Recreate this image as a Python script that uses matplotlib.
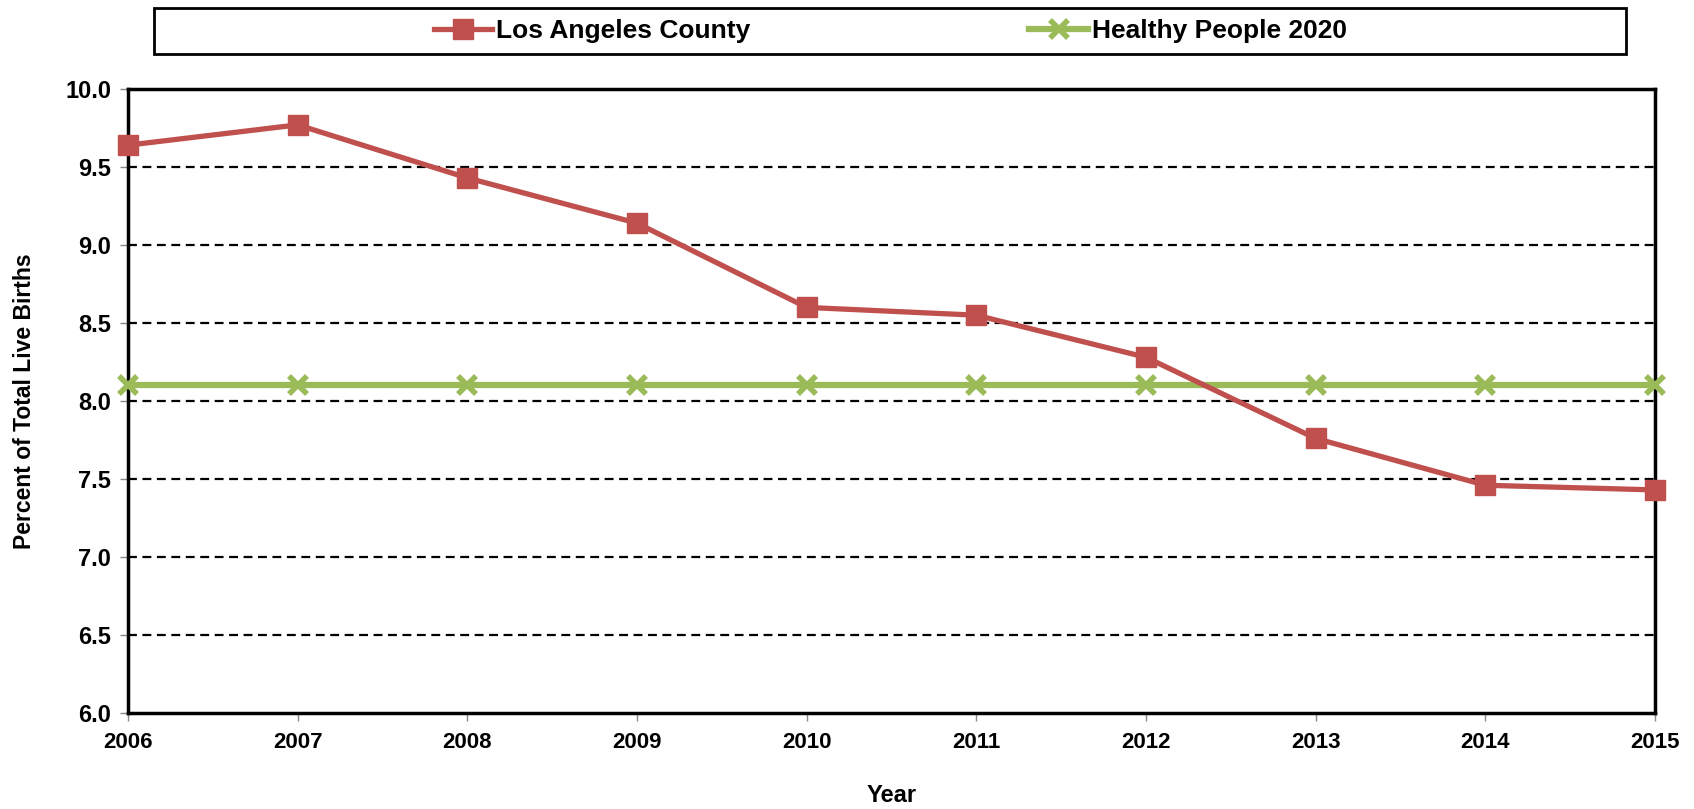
import numpy as np
import matplotlib
matplotlib.use("Agg")
import matplotlib.pyplot as plt
from matplotlib.patches import Rectangle

plt.rcParams['font.family'] = ['Liberation Sans', 'DejaVu Sans']
plt.rcParams['font.weight'] = 'bold'

years = [2006, 2007, 2008, 2009, 2010, 2011, 2012, 2013, 2014, 2015]
la_county = [9.64, 9.77, 9.43, 9.14, 8.60, 8.55, 8.28, 7.76, 7.46, 7.43]
hp2020 = [8.1] * len(years)
yticks = [6.0, 6.5, 7.0, 7.5, 8.0, 8.5, 9.0, 9.5, 10.0]

red = '#C0504D'
green = '#9BBB59'

fig = plt.figure(figsize=(16.94, 8.09), dpi=100)
ax = fig.add_axes([128/1694, 1-713/809, (1655-128)/1694, (713-89)/809])

# dashed gridlines
for yv in yticks[1:-1]:
    ax.axhline(yv, color='black', ls=(0, (4, 2.5)), lw=1.6, zorder=1)

ax.plot(years, la_county, color=red, lw=3.8, marker='s', ms=14,
        label='Los Angeles County', zorder=4, clip_on=False)
ax.plot(years, hp2020, color=green, lw=4.5, marker='x', ms=13, mew=4,
        label='Healthy People 2020', zorder=3, clip_on=False)

ax.set_xlim(years[0], years[-1])
ax.set_ylim(6.0, 10.0)
ax.set_xticks(years)
ax.set_yticks(yticks)
ax.set_yticklabels([f'{v:.1f}' for v in yticks])
ax.tick_params(axis='x', labelsize=16, length=6, width=1, color='#888888', pad=8)
ax.tick_params(axis='y', labelsize=17, length=6, width=1, color='#888888', pad=6)
for lab in ax.get_xticklabels() + ax.get_yticklabels():
    lab.set_fontweight('bold')
for sp in ax.spines.values():
    sp.set_linewidth(2.5)
    sp.set_color('black')

ax.set_xlabel('Year', fontsize=17, fontweight='bold')
ax.xaxis.set_label_coords(0.5, -0.113)
ax.set_ylabel('Percent of Total Live Births', fontsize=16.5, fontweight='bold')
ax.yaxis.set_label_coords(-0.060, 0.5)

leg = fig.legend(loc='center', bbox_to_anchor=(154/1694, 1-54/809, (1626-154)/1694, 46/809),
                 ncol=2, frameon=False, fontsize=19, columnspacing=10.6,
                 handlelength=2.2, handletextpad=0.15, borderaxespad=0)
for t in leg.get_texts():
    t.set_fontweight('bold')

fig.patches.append(Rectangle((154/1694, 1-54/809), (1626-154)/1694, 46/809,
                             transform=fig.transFigure, fill=False,
                             edgecolor='black', lw=2))

fig.savefig('out.png', dpi=100)
